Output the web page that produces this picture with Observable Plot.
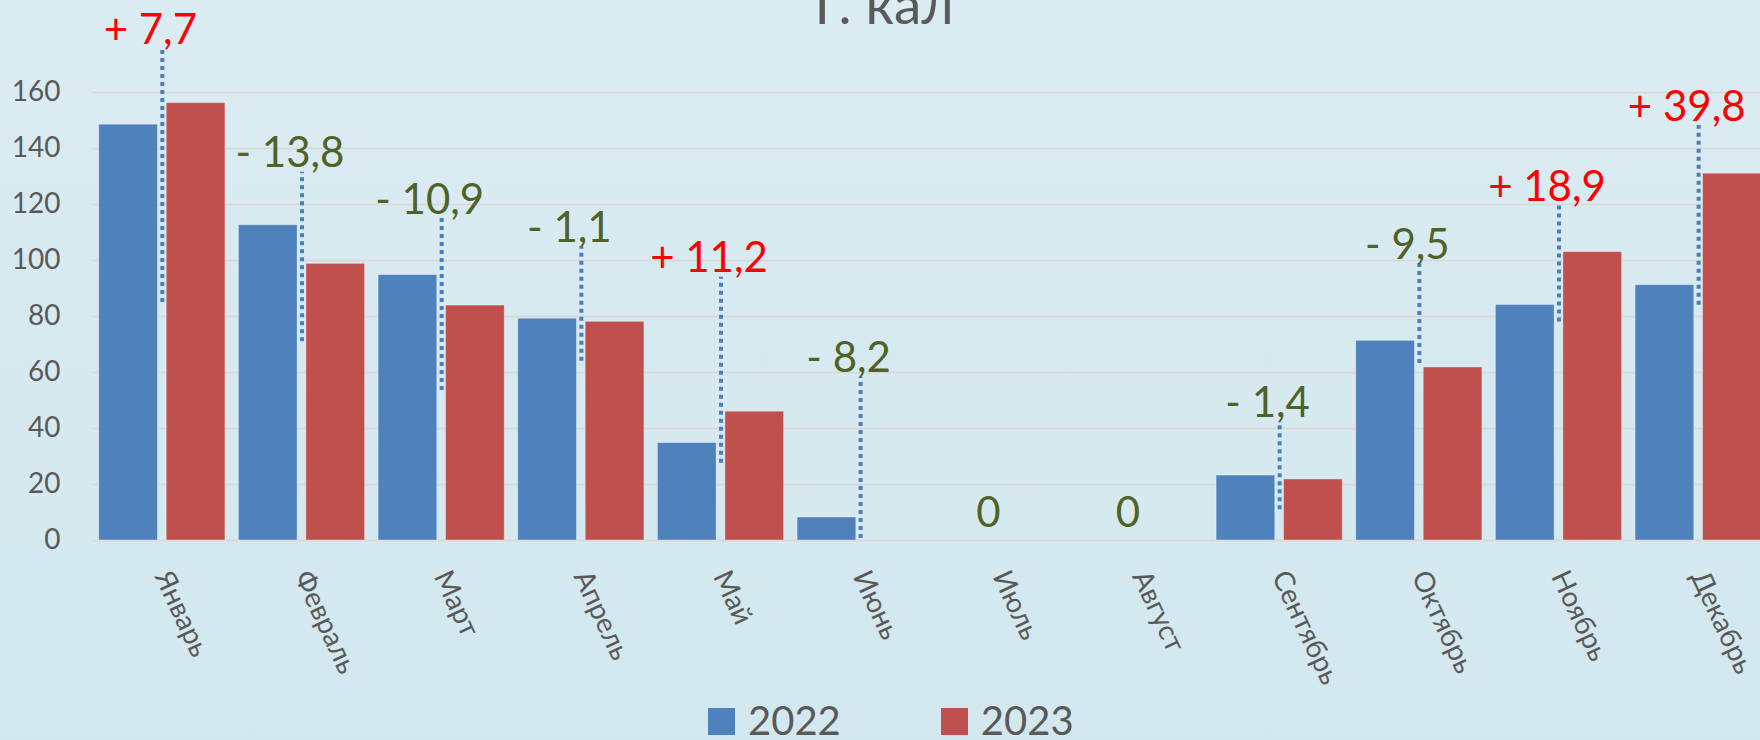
<!DOCTYPE html>
<html>
<head>
<meta charset="utf-8">
<script src="https://cdn.jsdelivr.net/npm/d3@7"></script>
<script src="https://cdn.jsdelivr.net/npm/@observablehq/plot@0.6"></script>
<style>
  html, body { margin: 0; padding: 0; }
  body {
    width: 1760px; height: 740px; overflow: hidden; position: relative;
    background: linear-gradient(#dbebf2, #d2e8ee);
    font-family: Lato, "Open Sans", sans-serif;
    color: #595959;
  }
  #title {
    position: absolute; left: 4px; top: -24px; width: 1760px;
    text-align: center; font-size: 55px; line-height: 55px; color: #595959;
    z-index: 2;
  }
  #chart svg { display: block; max-width: none; }
  #legend {
    display: flex; align-items: flex-start; height: 36px; margin-top: 2px;
    margin-left: 708px; font-size: 40px; line-height: 36px;
  }
  .sw { width: 27px; height: 27px; margin-top: 6px; margin-right: 13px; }
  .item { display: flex; align-items: flex-start; margin-right: 100px; }
</style>
</head>
<body>
<div id="title">Г. кал</div>
<div id="chart"></div>
<div id="legend"></div>
<script>
const months = ["Январь","Февраль","Март","Апрель","Май","Июнь","Июль","Август","Сентябрь","Октябрь","Ноябрь","Декабрь"];
const years = ["2022", "2023"];
const values2022 = [148.5, 112.6, 94.8, 79.2, 34.8, 8.2, 0, 0, 23.2, 71.3, 84.1, 91.2];
const values2023 = [156.2, 98.8, 83.9, 78.1, 46.0, 0, 0, 0, 21.8, 61.8, 103.0, 131.0];
const diffs = [7.7, -13.8, -10.9, -1.1, 11.2, -8.2, 0, 0, -1.4, -9.5, 18.9, 39.8];
const lineTops = [175.7, 131.5, 115, 104.8, 94, 58.3, 3, 3, 42.3, 98.8, 119.6, 148.2];
const lineBottoms = [85, 71, 53.6, 64, 27.6, 0.7, null, null, 11, 63.2, 78, 84];
const yTicks = [0, 20, 40, 60, 80, 100, 120, 140, 160];
const colors = ["#4F81BD", "#C0504D"];

const bars = [];
months.forEach((m, i) => {
  bars.push({month: m, year: years[0], value: values2022[i]});
  bars.push({month: m, year: years[1], value: values2023[i]});
});
const diffData = months.map((m, i) => ({
  month: m, diff: diffs[i], top: lineTops[i], bottom: lineBottoms[i],
  label: diffs[i] === 0 ? "0" : (diffs[i] > 0 ? "+ " : "- ") + Math.abs(diffs[i]).toFixed(1).replace(".", ",")
}));

const chart = Plot.plot({
  width: 1768,
  height: 700,
  marginLeft: 92,
  marginRight: 0,
  marginTop: 8,
  marginBottom: 160,
  style: {background: "transparent", fontFamily: "Lato, 'Open Sans', sans-serif", fontSize: "28px", color: "#595959", maxWidth: "none", overflow: "visible"},
  fx: {domain: months, padding: 0, round: false, label: null, axis: "bottom", tickRotate: 65, tickSize: 0, tickPadding: 32},
  x: {domain: years, paddingInner: 0.13, paddingOuter: 0.1, round: false, axis: null},
  y: {domain: [0, 190], ticks: yTicks, tickSize: 0, tickPadding: 32, label: null},
  color: {domain: years, range: colors},
  marks: [
    Plot.ruleY(yTicks, {stroke: "#d9d9d9", strokeWidth: 2}),
    Plot.barY(bars, {fx: "month", x: "year", y: "value", fill: "year", inset: 0, stroke: "rgba(255,255,255,0.35)", strokeWidth: 1}),
    Plot.ruleX(diffData.filter(d => d.bottom != null), {fx: "month", x: null, y1: "bottom", y2: "top", stroke: "#4A7EBB", strokeWidth: 4, strokeDasharray: "4,4"}),
    Plot.text(diffData.filter(d => d.diff > 0), {fx: "month", y: "top", text: "label", fill: "#FF0000", fontSize: 42, lineAnchor: "bottom", dy: -5, dx: -12}),
    Plot.text(diffData.filter(d => d.diff <= 0), {fx: "month", y: "top", text: "label", fill: "#4F6228", fontSize: 42, lineAnchor: "bottom", dy: -5, dx: -12})
  ]
});
chart.style.maxWidth = "none";
document.getElementById("chart").appendChild(chart);

const legend = document.getElementById("legend");
years.forEach((y, i) => {
  const it = document.createElement("div");
  it.className = "item";
  const sw = document.createElement("div");
  sw.className = "sw";
  sw.style.background = colors[i];
  const t = document.createElement("span");
  t.textContent = y;
  it.appendChild(sw); it.appendChild(t);
  legend.appendChild(it);
});
</script>
</body>
</html>
